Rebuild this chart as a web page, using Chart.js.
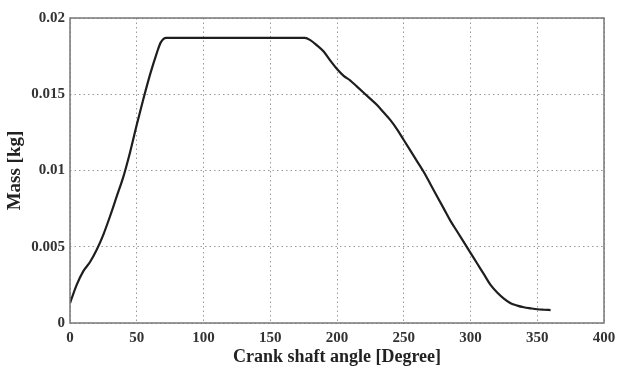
<!DOCTYPE html>
<html>
<head>
<meta charset="utf-8">
<script src="https://cdn.jsdelivr.net/npm/chart.js@4/dist/chart.umd.min.js"></script>
<style>
  html, body { margin: 0; padding: 0; background: #fff; }
  #wrap { width: 617px; height: 372px; }
</style>
</head>
<body>
<div id="wrap"><canvas id="massgraph"></canvas></div>
<script>
// crank angle (deg) and mass in cylinder (kg)
var angle = [0, 2, 5, 10, 15, 20, 25, 30, 35, 40, 45, 50, 55, 60, 65, 68, 72,
    100, 150, 176, 180, 185, 190, 195, 200, 205, 210, 215, 220, 225, 230, 235,
    240, 245, 250, 255, 260, 265, 270, 275, 280, 285, 290, 295, 300, 305, 310,
    315, 320, 325, 330, 335, 340, 345, 350, 355, 360];
var mass = [0.0013, 0.0018, 0.0025, 0.0034, 0.0040, 0.0048, 0.0058, 0.0070, 0.0083, 0.0096,
    0.0112, 0.0130, 0.0147, 0.0163, 0.0177, 0.0184, 0.0187,
    0.0187, 0.0187, 0.0187, 0.01855, 0.0182, 0.0178, 0.0172, 0.01665, 0.0162, 0.0159, 0.0155,
    0.0151, 0.0147, 0.0143, 0.0138, 0.0133, 0.0127, 0.0120, 0.0113, 0.0106, 0.0099,
    0.0091, 0.0083, 0.0075, 0.0067, 0.0060, 0.0053, 0.0046, 0.0039, 0.0032, 0.0025,
    0.0020, 0.0016, 0.0013, 0.00114, 0.00103, 0.00096, 0.0009, 0.00087, 0.00085];

var xTicks = [0, 50, 100, 150, 200, 250, 300, 350, 400];
var yTicks = [0, 0.005, 0.01, 0.015, 0.02];
var yTickText = ["0", "0.005", "0.01", "0.015", "0.02"];

var points = angle.map((a, i) => ({x: a, y: mass[i]}));

// box round the plot, like matlab
var frame = {
    id: 'frame',
    afterDraw(chart) {
        var c = chart.ctx, a = chart.chartArea;
        c.save();
        c.strokeStyle = '#777';
        c.lineWidth = 1.5;
        c.strokeRect(a.left, a.top, a.right - a.left, a.bottom - a.top);
        c.restore();
    }
};

var font = "'Liberation Serif', 'DejaVu Serif', serif";

new Chart(document.getElementById("massgraph").getContext('2d'), {
    type: 'line',
    data: {
        datasets: [{
            label: "Mass",
            data: points,
            fill: false,
            borderColor: "#1e1e1e",
            borderWidth: 2.2,
            pointRadius: 0,
            cubicInterpolationMode: 'monotone'
        }]
    },
    options: {
        responsive: true,
        maintainAspectRatio: false,
        animation: false,
        layout: { padding: { top: 18, right: 0, left: 0, bottom: 0 } },
        plugins: {
            legend: { display: false },
            tooltip: { enabled: false }
        },
        scales: {
            x: {
                type: 'linear',
                min: 0,
                max: 400,
                afterBuildTicks: s => { s.ticks = xTicks.map(v => ({value: v})); },
                afterFit: s => { s.height = 49; s.paddingRight = 13; s.paddingLeft = 0; },
                border: { display: false, dash: [1.5, 3] },
                grid: { color: '#999', drawTicks: false },
                ticks: { color: '#333', padding: 6, font: { family: font, size: 15, weight: 'bold' }, maxRotation: 0 },
                title: {
                    display: true,
                    text: 'Crank shaft angle [Degree]',
                    color: '#222',
                    padding: { top: 8 },
                    font: { family: font, size: 18, weight: 'bold' }
                }
            },
            y: {
                min: 0,
                max: 0.02,
                afterBuildTicks: s => { s.ticks = yTicks.map(v => ({value: v})); },
                afterFit: s => { s.width = 70; },
                border: { display: false, dash: [1.5, 3] },
                grid: { color: '#999', drawTicks: false },
                ticks: {
                    color: '#333',
                    padding: 5,
                    font: { family: font, size: 15, weight: 'bold' },
                    callback: (v, i) => yTickText[i]
                },
                title: {
                    display: true,
                    text: 'Mass [kg]',
                    color: '#222',
                    padding: { bottom: 2 },
                    font: { family: font, size: 19, weight: 'bold' }
                }
            }
        }
    },
    plugins: [frame]
});
</script>
</body>
</html>
